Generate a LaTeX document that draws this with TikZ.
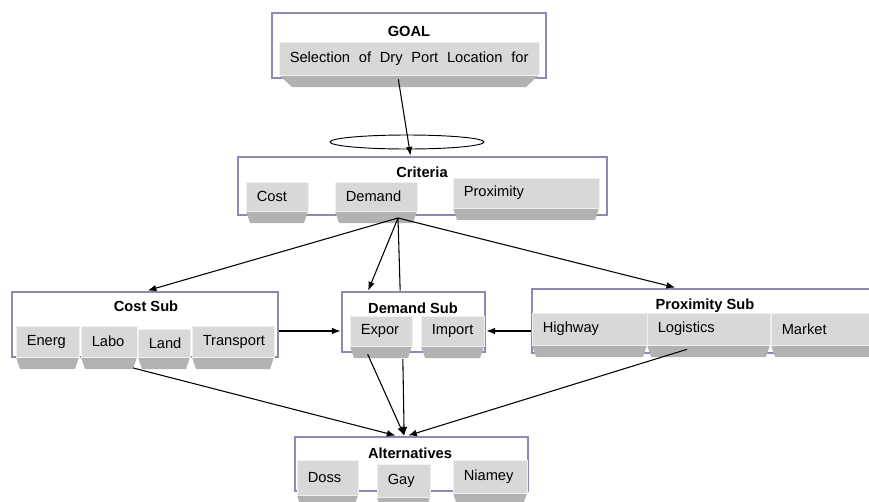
\documentclass[tikz,border=0pt]{standalone}
\usepackage{fontspec}
\setmainfont{Liberation Sans}
\usepackage{tikz}
\usetikzlibrary{positioning,arrows.meta}

\definecolor{boxline}{RGB}{143,136,181}
\definecolor{keyface}{RGB}{216,216,216}
\definecolor{keyshade}{RGB}{178,178,178}

\tikzset{
  grpbox/.style={draw=boxline, line width=2.2pt, fill=white, inner sep=0pt},
  grptitle/.style={font=\fontsize{11}{13}\selectfont\bfseries, inner sep=0pt},
  keyface/.style={fill=keyface, draw=white!88!gray, line width=0.4pt, inner sep=0pt},
  keytext/.style={font=\fontsize{11}{13}\selectfont, inner xsep=0pt, inner ysep=1pt},
  link/.style={line width=0.8pt, -{Latex[length=6.5pt,width=5pt]}},
  plainlink/.style={line width=0.8pt}
}

% key button: [inset] name, left x, top y, width, face height, text
\newcommand{\keybtn}[7][4]{%
  \fill[keyshade] (#3,#4+#6) -- (#3+#5,#4+#6) -- (#3+#5-#1,#4+#6+12) -- (#3+#1,#4+#6+12) -- cycle;
  \node[keyface, minimum width={#5*0.75pt}, minimum height={#6*0.75pt}] (#2) at (#3+#5/2,#4+#6/2) {};
  \node[keytext, anchor=west] (#2t) at (#3+10.5,#4+#6/2) {#7};
}

\begin{document}
\begin{tikzpicture}[x=0.75pt,y=0.75pt,yscale=-1,xscale=1]
\clip (0,0) rectangle (869,501);

%Group boxes
\node[grpbox, minimum width=205.5pt, minimum height=48.75pt] (goal) at (409,45.5) {};
\node[grpbox, minimum width=276.75pt, minimum height=43.5pt] (crit) at (422.5,186) {};
\node[grpbox, minimum width=199.5pt, minimum height=48.75pt] (costsub) at (145,324.5) {};
\node[grpbox, minimum width=107.25pt, minimum height=45pt] (demsub) at (413.5,322) {};
\node[grpbox, minimum width=264.75pt, minimum height=48pt] (proxsub) at (708.5,321) {};
\node[grpbox, minimum width=174.75pt, minimum height=40.5pt] (alt) at (411.5,464) {};

%Titles
\node[grptitle] (goalt) at (409,31) {GOAL};
\node[grptitle] (critt) at (422,172) {Criteria};
\node[grptitle] (costsubt) at (146,306) {Cost Sub};
\node[grptitle] (demsubt) at (413,308) {Demand Sub};
\node[grptitle] (proxsubt) at (705,306) {Proximity Sub};
\node[grptitle] (altt) at (410,453) {Alternatives};

%Buttons
\keybtn[13]{sel}{279}{42}{260}{33}{\makebox[179pt][s]{Selection of Dry Port Location for}}

\keybtn{cost}{246}{182}{62}{29}{Cost}
\keybtn{dem}{335}{182}{82}{29}{Demand}
\keybtn{prox}{453}{178}{146}{30}{Proximity}

\keybtn{energ}{16}{326}{63}{31}{Energ}
\keybtn{labo}{81}{326}{56}{31}{Labo}
\keybtn{land}{138}{329}{52}{28}{Land}
\keybtn{transp}{192}{326}{82}{31}{Transport}

\keybtn{expor}{350}{316}{62}{30}{Expor}
\keybtn{import}{421}{316}{63}{30}{Import}

\keybtn{highway}{532}{313}{115}{32}{Highway}
\keybtn{logis}{647}{313}{123}{32}{Logistics}
\keybtn{market}{771}{313}{110}{32}{Market}

\keybtn{doss}{297}{460}{61}{35}{Doss}
\keybtn{gay}{377}{464}{53}{33}{Gay}
\keybtn{niamey}{453}{460}{74}{33}{Niamey}

%Ellipse
\draw[line width=0.7pt] (407,142) ellipse (77 and 7);

%Connectors
\coordinate (demhub) at (398,218);
\draw[link] ([xshift=-8pt,yshift=3pt]sel.south) -- ([xshift=-9pt]crit.north);
\draw[link] (demhub) -- ([xshift=2pt]costsub.north);
\draw[link] (demhub) -- ([xshift=-34pt]demsub.north);
\draw[plainlink] (demhub) -- ([xshift=-10pt]demsub.north);
\draw[link] (demhub) -- ([xshift=-25pt]proxsub.north);

\draw[link] (costsub.east |- expor.west) -- (demsub.west |- expor.west);
\draw[link] (proxsub.west |- import.east) -- (demsub.east |- import.east);

\draw[link] ([xshift=18pt,yshift=8pt]labo.south) -- ([xshift=-12pt]alt.north);
\draw[link] ([xshift=-10pt,yshift=6pt]expor.south) -- ([xshift=-5.5pt]alt.north);
\draw[link] ([xshift=-8pt,yshift=4pt]demsub.south) -- ([xshift=-5.5pt]alt.north);
\draw[link] ([xshift=-16pt,yshift=3pt]logis.south) -- ([xshift=-2.5pt]alt.north);

\end{tikzpicture}
\end{document}
